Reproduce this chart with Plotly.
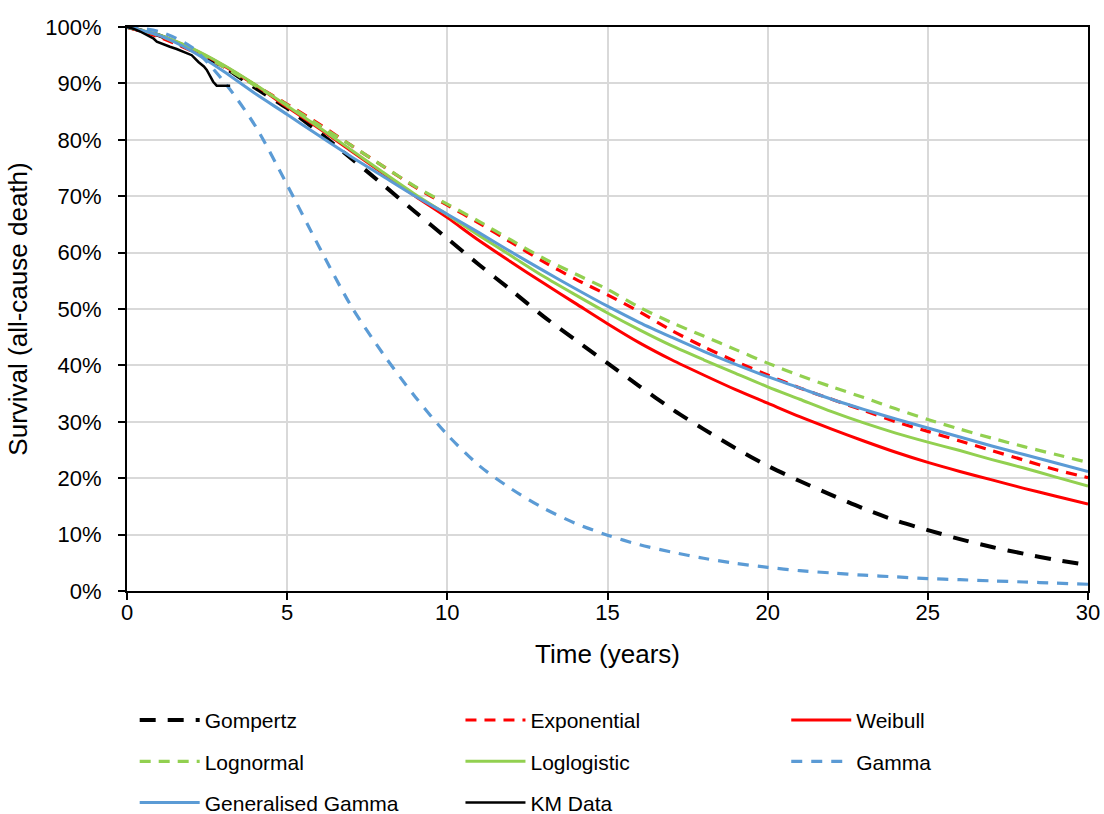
import plotly.graph_objects as go

# Time grid (years) for the fitted parametric curves
years = list(range(0, 31))

gompertz = [1.000, 0.985, 0.960, 0.930, 0.892, 0.856, 0.813, 0.767, 0.720, 0.672, 0.625,
            0.578, 0.533, 0.487, 0.445, 0.404, 0.363, 0.323, 0.287, 0.253, 0.222,
            0.195, 0.170, 0.146, 0.125, 0.108, 0.092, 0.078, 0.066, 0.055, 0.046]
exponential = [1.000, 0.982, 0.958, 0.930, 0.897, 0.863, 0.828, 0.790, 0.753, 0.716, 0.684,
               0.652, 0.618, 0.584, 0.553, 0.525, 0.495, 0.462, 0.433, 0.407, 0.383,
               0.360, 0.340, 0.320, 0.300, 0.283, 0.266, 0.249, 0.232, 0.215, 0.201]
weibull = [1.000, 0.985, 0.962, 0.932, 0.897, 0.858, 0.820, 0.780, 0.740, 0.700, 0.662,
           0.621, 0.583, 0.546, 0.510, 0.474, 0.440, 0.410, 0.383, 0.357, 0.333,
           0.309, 0.287, 0.266, 0.246, 0.228, 0.212, 0.197, 0.182, 0.168, 0.154]
lognormal = [1.000, 0.985, 0.960, 0.930, 0.896, 0.862, 0.826, 0.790, 0.753, 0.717, 0.686,
             0.655, 0.622, 0.590, 0.562, 0.535, 0.503, 0.476, 0.452, 0.428, 0.404,
             0.382, 0.362, 0.343, 0.323, 0.304, 0.287, 0.271, 0.256, 0.242, 0.228]
loglogistic = [1.000, 0.986, 0.963, 0.933, 0.898, 0.860, 0.822, 0.782, 0.742, 0.703, 0.667,
               0.630, 0.594, 0.558, 0.525, 0.493, 0.463, 0.435, 0.410, 0.386, 0.362,
               0.340, 0.318, 0.298, 0.280, 0.264, 0.249, 0.233, 0.218, 0.202, 0.186]
gamma = [1.000, 0.992, 0.965, 0.905, 0.825, 0.720, 0.610, 0.505, 0.420, 0.344, 0.277,
         0.222, 0.181, 0.147, 0.120, 0.099, 0.082, 0.069, 0.058, 0.049, 0.042,
         0.036, 0.032, 0.028, 0.025, 0.022, 0.020, 0.018, 0.016, 0.014, 0.012]
gen_gamma = [1.000, 0.985, 0.958, 0.922, 0.882, 0.845, 0.807, 0.770, 0.735, 0.700, 0.668,
             0.635, 0.601, 0.568, 0.536, 0.505, 0.476, 0.450, 0.425, 0.402, 0.380,
             0.360, 0.340, 0.322, 0.305, 0.289, 0.273, 0.257, 0.242, 0.227, 0.212]

# Kaplan-Meier observed data
km_time = [0.00, 0.20, 0.41, 0.60, 0.82, 0.93, 1.10, 1.34, 1.55, 1.76, 2.02, 2.23, 2.40,
           2.49, 2.59, 2.69, 2.80, 3.22]
km_surv = [1.000, 0.997, 0.992, 0.986, 0.980, 0.974, 0.970, 0.965, 0.961, 0.956, 0.950,
           0.938, 0.930, 0.924, 0.912, 0.903, 0.896, 0.896]

RED = "#FF0000"
GREEN = "#92D050"
BLUE = "#5B9BD5"
BLACK = "#000000"

# name, x, y, colour, dash, width, legend column
series = [
    ("Gompertz", years, gompertz, BLACK, "16px,12px", 4, "legend"),
    ("Exponential", years, exponential, RED, "11px,8px", 3.2, "legend2"),
    ("Weibull", years, weibull, RED, "solid", 3, "legend3"),
    ("Lognormal", years, lognormal, GREEN, "11px,8px", 3.2, "legend"),
    ("Loglogistic", years, loglogistic, GREEN, "solid", 3, "legend2"),
    ("Gamma", years, gamma, BLUE, "11px,9px", 3.2, "legend3"),
    ("Generalised Gamma", years, gen_gamma, BLUE, "solid", 3, "legend"),
]

fig = go.Figure()
for name, x, y, color, dash, width, leg in series:
    fig.add_trace(go.Scatter(
        x=x, y=y, name=name, mode="lines", legend=leg, legendgroup=name,
        line=dict(color=color, dash=dash, width=width, shape="spline", smoothing=0.8),
    ))
fig.add_trace(go.Scatter(
    x=km_time, y=km_surv, name="KM Data", mode="lines", legend="legend2",
    legendgroup="KM Data",
    line=dict(color=BLACK, width=2.5),
))

FONT = "Liberation Sans, Arial, sans-serif"
axis_common = dict(
    showline=True, linecolor=BLACK, linewidth=2, mirror=True,
    showgrid=True, gridcolor="#D9D9D9", gridwidth=2,
    ticks="outside", ticklen=7, tickwidth=2, tickcolor=BLACK,
    zeroline=False,
    tickfont=dict(family=FONT, size=22, color=BLACK),
)

fig.update_xaxes(range=[0, 30], dtick=5, tick0=0,
                 title=dict(text="Time (years)", font=dict(family=FONT, size=26, color=BLACK), standoff=20),
                 ticklabelstandoff=-6,
                 **axis_common)
fig.update_yaxes(range=[0, 1], dtick=0.1, tick0=0, tickformat=".0%",
                 title=dict(text="Survival (all-cause death)", font=dict(family=FONT, size=26, color=BLACK), standoff=10),
                 ticklabelstandoff=12,
                 **axis_common)

# three vertical legend columns, one trace group per row
legend_common = dict(orientation="v", xanchor="left", yanchor="top",
                     itemwidth=60, tracegroupgap=11, traceorder="grouped",
                     font=dict(family=FONT, size=21, color=BLACK),
                     bgcolor="rgba(0,0,0,0)")
fig.update_layout(
    width=1104, height=814,
    margin=dict(l=127, r=16, t=27, b=223, autoexpand=False),
    paper_bgcolor="white", plot_bgcolor="white",
    showlegend=True,
    legend=dict(x=0.008, y=-0.193, **legend_common),
    legend2=dict(x=0.347, y=-0.193, **legend_common),
    legend3=dict(x=0.686, y=-0.193, **legend_common),
)

fig.write_html("out.html")
